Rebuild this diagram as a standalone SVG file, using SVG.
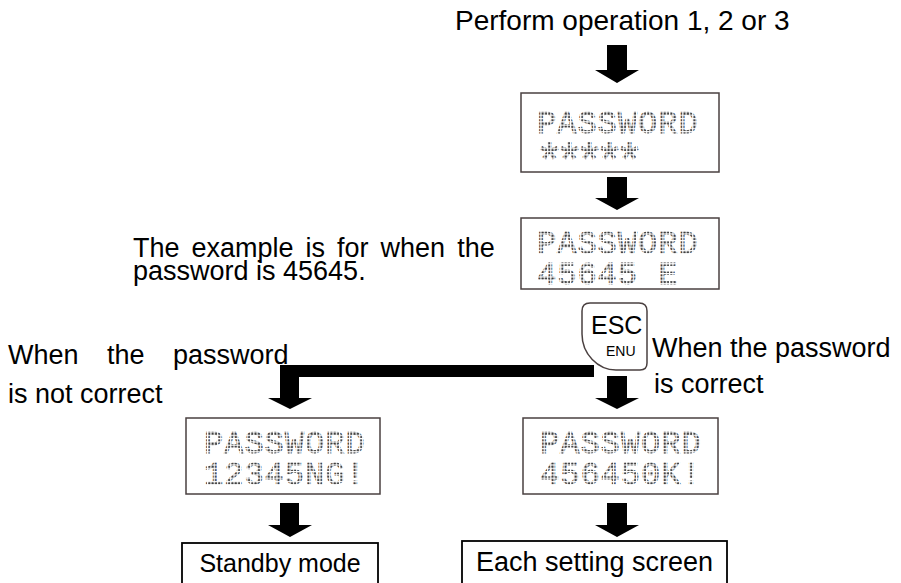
<svg xmlns="http://www.w3.org/2000/svg" width="901" height="583" viewBox="0 0 901 583">
<defs>
<pattern id="dots" width="3.3" height="3.3" patternUnits="userSpaceOnUse">
<rect x="0.4" y="0.4" width="2" height="2" fill="#3a3a3a"/>
</pattern>
</defs>
<style>
.t{font-family:"Liberation Sans",Arial,sans-serif;font-size:27px;fill:#000}
.lcd{font-family:"Liberation Mono","DejaVu Sans Mono",monospace;font-size:32px;letter-spacing:1px;fill:url(#dots);stroke:url(#dots);stroke-width:0.8}
.star{font-family:"Liberation Mono","DejaVu Sans Mono",monospace;font-size:48px;letter-spacing:-8.8px;fill:url(#dots);stroke:url(#dots);stroke-width:0.8}
.lbox{fill:#fff;stroke:#4a4040;stroke-width:1.5}
.box{fill:#fff;stroke:#000;stroke-width:1.8}
.arr{fill:#000}
</style>
<rect width="901" height="583" fill="#fff"/>
<text class="t" x="455" y="30" style="font-size:28px">Perform operation 1, 2 or 3</text>
<text class="t" x="133" y="257" style="word-spacing:4.5px">The example is for when the</text>
<text class="t" x="133" y="280">password is 45645.</text>
<text class="t" x="8" y="364" style="word-spacing:21px">When the password</text>
<text class="t" x="8" y="403">is not correct</text>
<text class="t" x="652" y="357">When the password</text>
<text class="t" x="654" y="393">is correct</text>

<g id="connectors">
<polygon class="arr" points="607,45 627,45 627,70 639,70 617,83 595,70 607,70"/>
<polygon class="arr" points="607,177 627,177 627,198 639,198 617,210 595,198 607,198"/>
<polygon class="arr" points="594,365 280,365 280,398 268,398 290,409 312,398 299,398 299,377 594,377"/>
<polygon class="arr" points="607,376 627,376 627,398 639,398 617,409 595,398 607,398"/>
<polygon class="arr" points="280,503 299,503 299,525 312,525 290,537 268,525 280,525"/>
<polygon class="arr" points="607,503 627,503 627,525 639,525 617,537 595,525 607,525"/>
</g>

<g id="lcd1">
<rect class="lbox" x="521" y="93" width="198" height="79"/>
<text class="lcd" x="537" y="133">PASSWORD</text>
<text class="star" x="535" y="177">*****</text>
</g>
<g id="lcd2">
<rect class="lbox" x="521" y="218" width="198" height="71"/>
<text class="lcd" x="537" y="253">PASSWORD</text>
<text class="lcd" x="537" y="284">45645 E</text>
</g>
<g id="esc-key">
<path d="M590,303 H639 Q647,303 647,311 V363 Q647,370 640,370 H616 C598,370 582,354 582,334 V311 Q582,303 590,303 Z" fill="#fff" stroke="#4a4040" stroke-width="1.5"/>
<text class="t" x="591" y="334" style="font-size:25px">ESC</text>
<text class="t" x="606" y="356" style="font-size:14px">ENU</text>
</g>
<g id="lcd-ng">
<rect class="lbox" x="186" y="418" width="194" height="76"/>
<text class="lcd" x="204" y="453">PASSWORD</text>
<text class="lcd" x="204" y="484">12345NG!</text>
</g>
<g id="lcd-ok">
<rect class="lbox" x="523" y="418" width="195" height="76"/>
<text class="lcd" x="540" y="453">PASSWORD</text>
<text class="lcd" x="540" y="484">456450K!</text>
</g>
<g id="standby">
<rect class="box" x="182" y="543" width="196" height="44"/>
<text class="t" x="280" y="572" text-anchor="middle" style="font-size:25px">Standby mode</text>
</g>
<g id="setting">
<rect class="box" x="462" y="541" width="265" height="46"/>
<text class="t" x="594.5" y="571" text-anchor="middle">Each setting screen</text>
</g>
</svg>
